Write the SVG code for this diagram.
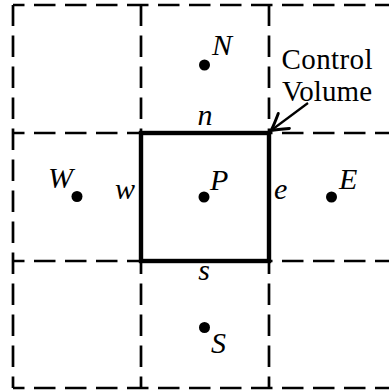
<svg xmlns="http://www.w3.org/2000/svg" width="389" height="391" viewBox="0 0 389 391">
  <style>
    .grid { stroke: #000; stroke-width: 2.7; fill: none; stroke-dasharray: 21.5 9.5; stroke-dashoffset: 10; }
    .cv { stroke: #000; stroke-width: 4.4; fill: none; }
    .dot { fill: #000; }
    .conn { stroke: #000; stroke-width: 2.2; fill: none; }
    .t { font-family: "Liberation Serif", "Times New Roman", Tinos, "Nimbus Roman", "FreeSerif", "Noto Serif", "DejaVu Serif", serif; fill: #000; }
    .i { font-style: italic; font-size: 30px; }
    .r { font-style: normal; font-size: 29px; }
  </style>
  <defs>
    <marker id="arrow" markerUnits="userSpaceOnUse" markerWidth="24" markerHeight="24" viewBox="-14 -9 16 18" refX="0" refY="0" orient="auto">
      <path d="M -12,-7 Q -4,-1.8 0,0 Q -4,1.8 -12,7" fill="none" stroke="#000" stroke-width="2.2" stroke-linecap="round"/>
    </marker>
  </defs>
  <rect width="389" height="391" fill="#fff"/>
  <g id="grid">
    <line class="grid" x1="13" y1="5" x2="389" y2="5"/>
    <line class="grid" x1="13" y1="133" x2="389" y2="133"/>
    <line class="grid" x1="13" y1="261" x2="389" y2="261"/>
    <line class="grid" x1="13" y1="388" x2="389" y2="388"/>
    <line class="grid" x1="13" y1="388" x2="13" y2="5"/>
    <line class="grid" x1="141" y1="388" x2="141" y2="5"/>
    <line class="grid" x1="269" y1="388" x2="269" y2="5"/>
  </g>
  <g id="control-volume">
    <rect class="cv" x="141" y="133" width="128" height="128"/>
    <text class="t i" x="205" y="125" text-anchor="middle">n</text>
    <text class="t i" x="204" y="280" text-anchor="middle">s</text>
    <text class="t i" x="115" y="199">w</text>
    <text class="t i" x="274" y="199">e</text>
  </g>
  <g id="node-P">
    <circle class="dot" cx="204" cy="197" r="5.5"/>
    <text class="t i" x="210" y="190">P</text>
  </g>
  <g id="node-N">
    <circle class="dot" cx="204.5" cy="65" r="5.5"/>
    <text class="t i" x="212" y="55">N</text>
  </g>
  <g id="node-S">
    <circle class="dot" cx="204.5" cy="327.5" r="5.5"/>
    <text class="t i" x="211" y="353">S</text>
  </g>
  <g id="node-W">
    <circle class="dot" cx="77" cy="196.5" r="5.5"/>
    <text class="t i" x="48" y="188">W</text>
  </g>
  <g id="node-E">
    <circle class="dot" cx="331.5" cy="197" r="5.5"/>
    <text class="t i" x="339" y="189">E</text>
  </g>
  <g id="callout">
    <text class="t r" x="327" y="69" text-anchor="middle" textLength="91">Control</text>
    <text class="t r" x="327" y="101" text-anchor="middle" textLength="90">Volume</text>
  </g>
  <g id="connectors">
    <line class="conn" x1="308" y1="103" x2="271" y2="130.5" marker-end="url(#arrow)"/>
  </g>
</svg>
